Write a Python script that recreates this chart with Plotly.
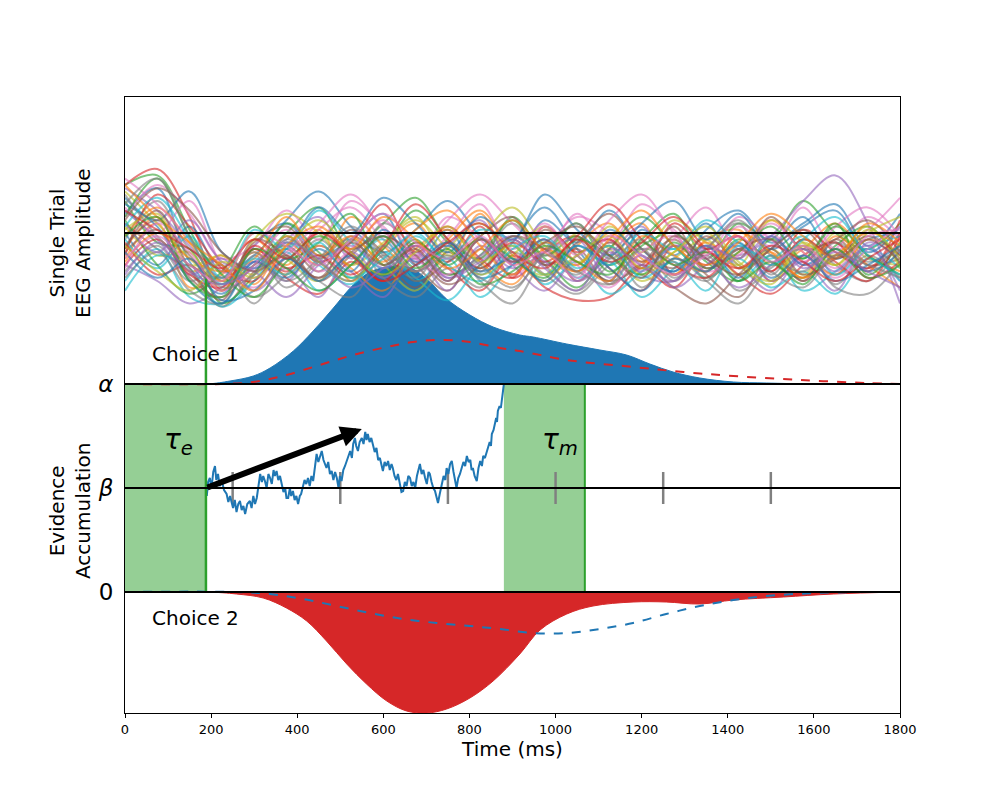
import plotly.graph_objects as go

# levels on the (arbitrary) vertical scale of the model panel
ZERO, BETA, ALPHA = 0, 104, 208

# EEG single trials, sampled every 75 ms (amplitude, baseline = 0)
eeg_t = [0, 75, 150, 225, 300, 375, 450, 525, 600, 675, 750, 825, 900,
         975, 1050, 1125, 1200, 1275, 1350, 1425, 1500, 1575, 1650, 1725, 1800]
eeg_trials = [
    [12, 28, -18, -38, -8, 6, -14, -4, 12, -20, 2, -26, -6, 16, -10, -30, 2, -14, 6, -22, -10, 10, -16, -4, 0],
    [-16, 6, -34, -26, -4, -20, 2, -30, -10, 6, -16, 12, -20, -4, -30, -10, 6, -26, -4, 2, -20, -10, 6, -14, -24],
    [30, 36, 2, -30, -20, 0, 16, -10, 6, 22, -4, -16, 10, -10, 6, -20, -4, 12, -16, 6, -4, 20, 0, -10, 6],
    [30, 40, 10, -36, -10, -24, 0, -12, -30, -6, -18, 4, -28, -12, -2, -22, -36, -8, -20, -2, -30, -14, -6, -24, 8],
    [-20, -30, -44, -34, -18, -30, -8, -24, -40, -14, -30, -4, -20, -36, -14, -4, -26, -30, -10, -20, -36, -14, -26, -10, -30],
    [6, -10, -24, -46, -24, -10, -30, -14, 0, -20, -36, -10, -26, 2, -14, -30, -20, -4, -26, -40, -14, -30, -4, -20, -16],
    [16, 0, 20, -20, -34, -14, 2, 16, -4, -16, 10, -4, -26, -10, 10, 0, -20, -4, 16, -10, 0, -20, -10, 10, -4],
    [-4, 20, -10, -20, -40, -26, -4, -20, 6, -10, -26, -16, 6, -20, -36, -16, 0, -26, -10, 6, -26, -4, -20, -30, -10],
    [26, 6, -16, -30, 0, -16, -30, -4, -20, -36, -10, 6, -16, -26, 0, -10, -30, -16, -4, -26, -10, -26, 0, -16, -20],
    [-30, -10, -40, -44, -30, -12, -36, -20, -4, -30, -16, -40, -20, -6, -28, -18, -40, -22, -8, -30, -14, -36, -24, -10, -22],
    [0, -20, 4, -24, -14, 8, 26, 4, -12, 2, 20, -2, -18, 8, -6, 14, -10, -24, 2, 14, -6, 6, 18, -8, 12],
    [-10, 10, -24, -14, -32, -6, -20, 10, -8, -24, -4, 14, -14, -30, -8, 6, -18, -8, -28, -12, 8, -12, -26, -4, -14],
    [20, -6, -10, -44, -26, 6, -12, -28, -10, 14, -6, -22, -2, -16, -34, -10, 10, -8, -24, -4, -18, -28, -8, 4, -20],
    [-6, -26, -20, -36, -10, -28, -38, -18, -30, -8, -22, -36, -14, -34, -42, -40, -22, -34, -12, -26, -38, -20, -6, -28, -18],
    [28, 14, -8, -28, -18, -4, 10, -16, -2, -24, -8, 8, -18, -4, -30, -14, 4, -26, -10, -14, -2, 20, 36, 6, -44],
    [-12, 2, -28, -40, -20, -8, -24, -2, -16, -34, -12, -24, -4, -20, -10, -32, -20, -34, -44, -26, -10, -30, -14, -22, -8],
    [10, 30, 12, -16, -8, 14, -4, 20, 4, -14, 8, 24, 6, -10, 12, -6, 18, 2, -14, 10, -4, -18, 4, 16, -2],
    [-24, -8, -30, -20, -44, -16, -30, -40, -14, -24, -6, -30, -44, -18, -26, -8, -34, -16, -30, -44, -20, -8, -32, -14, -28],
    [4, -14, -12, -36, -4, 12, 0, -20, -6, 10, -14, -2, 16, -8, -20, 4, -12, 8, -6, -20, 8, -6, -20, 0, 10],
    [-36, -14, -22, -46, -30, -6, -20, -32, -12, -28, -42, -20, -8, -32, -18, -38, -24, -10, -28, -16, -34, -24, -38, -16, -30],
    [22, 8, 26, -12, -22, -10, 16, 0, 22, 6, -12, 10, -4, 24, 2, -14, 6, 20, -4, 12, -10, 4, 14, -12, 4],
    [-2, 16, -6, -30, -12, -26, -8, -22, -36, -10, 2, -18, -32, -10, -20, 0, -16, -26, -6, -22, -12, -28, -2, -20, -34],
    [8, -20, -38, -24, 4, -16, -6, 12, -20, -4, -26, -14, 8, -14, -2, -24, -8, 0, -18, -30, -4, -16, 6, -26, -6],
    [-14, 24, 4, -22, -30, -2, -18, -6, 18, -12, 4, -16, -28, 4, -12, -4, -22, 6, -10, -2, -24, 2, -12, -22, 0],
    [14, -4, -26, -16, -36, -22, -40, -12, -28, -16, -36, -8, -22, -12, -4, -28, -14, -34, -20, -8, -30, -18, -36, -6, -16],
    [-8, 8, -14, -32, -6, 4, -16, 2, -12, -30, -18, -2, 10, -20, -6, 12, -10, -22, -2, -16, 10, -10, -4, 8, -12],
    [34, 18, -4, -24, -28, -12, 6, 24, 2, -18, -2, 18, -10, 6, -14, 8, 24, 0, -16, 4, -8, 16, -10, 2, 22],
    [-28, -12, -36, -44, -14, -34, -18, -4, -28, -40, -22, -34, -12, -26, -38, -20, -10, -30, -14, -36, -22, -10, -34, -38, -18],
    [2, 12, -20, -14, -26, -2, -18, -30, -8, 8, -10, -26, -14, 4, -18, -8, -26, -12, 0, -20, -32, -8, -14, 4, -22],
    [-4, -22, -2, -28, 2, -10, 14, -6, -22, -2, -16, 2, -6, -26, -8, -20, 0, -10, 8, -6, -16, -2, -26, -10, -2],
    [18, 4, -30, -44, -18, -28, -10, -24, 2, -18, -8, -28, -20, -4, -24, 2, -14, -24, -8, -28, -2, -20, -10, -24, -12],
    [-18, 0, -16, -24, -16, 10, -14, -2, -18, 2, 14, -8, -26, -6, -18, -30, -2, -14, -24, 0, -12, -28, -14, 0, -8],
    [10, 34, -2, -26, -40, -18, -2, -14, -26, -6, -20, -4, -16, -28, -4, -14, -26, -6, -22, -12, 4, -16, 4, -14, -26],
    [-20, -4, -26, -34, -8, -22, -14, -26, -8, 18, -4, -22, -6, -18, -2, 18, -4, -20, -28, -10, -24, -4, -18, -30, -2],
    [6, -12, 8, -18, -24, -40, -20, -8, -22, -12, -28, -14, -2, -18, -30, -12, -24, -8, -16, -34, -20, -10, -24, -8, -36],
    [-10, 14, -22, -42, -4, -14, -28, -12, -2, -14, -32, -20, -2, -10, -24, -6, -18, 4, -22, -10, -4, -26, -16, -2, -14],
    [-22, 6, -12, -36, -20, 2, -24, -10, 8, -16, -26, -4, -18, 4, -20, -34, -12, -2, -24, -14, 6, -12, -28, -10, 4],
    [24, -2, -20, -28, -12, -30, -16, 4, -14, -28, -6, -20, -34, -12, 6, -16, -4, -28, -10, 8, -14, -24, -6, -18, -10],
    [-8, -24, -36, -18, -28, -8, 8, -12, -26, -12, 4, -18, -8, -26, -14, -2, -22, -12, 4, -18, -30, -6, -20, 2, -16],
    [4, 22, -4, -32, -16, -26, -6, -28, -16, 0, -20, -30, -10, -2, -22, -8, -28, -18, -36, -8, -20, -4, 10, -14, -26],
    [-12, -28, -16, -42, -36, -16, -30, -14, -34, -20, -6, -24, -16, -30, -8, -22, -36, -16, -24, -6, -28, -14, -30, -20, -8],
    [30, 10, -6, -20, -36, -8, 4, -10, 10, -4, -22, -10, 8, -12, -24, -4, 14, -8, -20, -6, 12, -2, -16, 6, -6],
    [-2, 10, -30, -40, -10, -22, -36, -20, -2, -22, -10, -32, -24, -8, -18, -26, -6, -20, -12, -30, -18, -32, -10, -28, -20],
    [14, 2, -10, -22, -4, -16, 0, -14, -30, -20, -6, 6, -12, -22, -4, -18, -6, 10, -10, -22, -8, -18, -30, -16, -4],
    [-26, -6, -24, -32, -22, -6, -16, -34, -22, -8, -28, -18, -4, -22, -36, -10, -20, -30, -8, -16, -2, -22, -12, -24, -34],
    [8, 28, 14, -12, -24, -14, -28, -6, -20, -10, -30, -4, -18, -6, 4, -14, -28, -2, -16, -26, -10, 2, -16, -4, -18],
    [-16, -2, -20, -30, 0, -8, -20, -4, 12, -6, -16, -2, -20, -12, -28, -2, -14, -26, -14, -2, -18, -8, -22, -2, 2],
    [18, 34, -2, -34, -26, -4, -18, -30, -8, -24, -14, -28, -36, -14, -24, -32, -10, -18, -30, -10, -24, -34, -14, -20, -28],
]

# RT distributions (heights above alpha / depths below zero)
c1_t = [0, 190, 244, 298, 337, 391, 437, 484, 530, 569, 608, 639, 669, 708, 747, 801,
        855, 917, 948, 1026, 1103, 1165, 1219, 1273, 1335, 1413, 1490, 1600, 1800]
c1_h = [0, 0, 3, 8, 16, 33, 53, 76, 99, 112, 117, 118, 115, 102, 85, 69,
        57, 49, 47, 40, 34, 29, 20, 12, 6, 2, 1, 0, 0]
c1_alt_t = [0, 223, 298, 375, 452, 530, 608, 669, 731, 801, 871, 917, 1026, 1181, 1297, 1413, 1568, 1723, 1800]
c1_alt_h = [0, 0, 2, 9, 19, 29, 37, 42, 44, 42, 36, 33, 24, 17, 12, 8, 4, 1, 0]
c2_t = [0, 190, 259, 321, 375, 422, 468, 515, 561, 608, 654, 701, 747, 801, 855,
        917, 964, 1026, 1087, 1180, 1257, 1335, 1413, 1529, 1645, 1800]
c2_h = [0, 0, 2, 6, 16, 29, 49, 72, 92, 109, 119, 121, 117, 106, 89,
        62, 38, 22, 14, 10, 10, 12, 8, 5, 2, 0]
c2_alt_t = [0, 259, 337, 414, 491, 569, 646, 724, 801, 871, 948, 1026, 1103, 1180,
            1257, 1335, 1413, 1490, 1606, 1723, 1800]
c2_alt_h = [0, 0, 2, 7, 14, 21, 27, 31, 34, 37, 41, 41, 37, 31, 22, 14, 8, 4, 1, 0, 0]

# single evidence accumulation path (time, evidence)
walk = [
    (188, 104), (190, 96), (193, 110), (197, 114), (201, 104), (205, 120), (209, 126), (212, 112),
    (216, 118), (220, 106), (225, 111), (230, 102), (236, 98), (240, 90), (244, 96), (251, 84),
    (255, 92), (259, 80), (263, 88), (267, 91), (271, 82), (275, 86), (279, 78), (284, 88),
    (290, 91), (294, 84), (298, 96), (302, 88), (306, 94), (310, 108), (314, 118), (318, 110),
    (321, 116), (325, 111), (329, 104), (333, 118), (337, 114), (341, 108), (345, 122), (348, 116),
    (352, 121), (356, 112), (360, 116), (364, 108), (368, 100), (372, 104), (375, 94), (379, 94),
    (383, 104), (386, 96), (390, 101), (394, 92), (398, 96), (402, 88), (406, 96), (409, 98),
    (413, 104), (417, 112), (421, 108), (425, 114), (429, 106), (433, 116), (437, 111), (441, 126),
    (445, 138), (449, 130), (453, 136), (457, 141), (461, 132), (464, 128), (468, 124), (472, 130),
    (476, 118), (480, 121), (484, 112), (488, 120), (492, 114), (496, 104), (499, 116), (503, 111),
    (507, 122), (511, 126), (515, 131), (519, 136), (523, 141), (527, 134), (530, 148), (534, 154),
    (537, 146), (541, 141), (545, 150), (550, 154), (554, 148), (558, 160), (561, 152), (564, 158),
    (568, 150), (572, 154), (576, 148), (580, 140), (584, 144), (588, 132), (592, 134), (596, 126),
    (599, 121), (603, 130), (607, 126), (611, 131), (615, 122), (619, 128), (622, 124), (626, 116),
    (630, 112), (634, 118), (639, 108), (642, 100), (646, 101), (650, 110), (654, 106), (658, 116),
    (662, 114), (666, 106), (670, 110), (674, 104), (678, 116), (682, 122), (685, 128), (689, 118),
    (693, 122), (697, 114), (701, 108), (705, 120), (708, 118), (712, 110), (716, 104), (720, 101),
    (724, 94), (727, 89), (731, 98), (733, 104), (736, 108), (740, 116), (744, 112), (747, 124),
    (751, 118), (755, 128), (759, 131), (763, 120), (767, 110), (770, 104), (774, 114), (778, 118),
    (782, 124), (786, 130), (790, 126), (794, 136), (798, 130), (802, 132), (805, 122), (808, 124),
    (812, 116), (817, 111), (821, 124), (825, 131), (829, 126), (832, 136), (836, 134), (840, 140),
    (843, 144), (847, 150), (850, 146), (852, 158), (856, 162), (859, 168), (862, 174), (864, 170),
    (866, 181), (870, 186), (873, 184), (875, 191), (878, 200), (880, 208),
]

tau_e = [0, 188]
tau_m = [880, 1068]
marker_times = [250, 500, 750, 1000, 1250, 1500]
drift_start = (188, 104)
drift_end = (550, 163)

tab10 = ['#1f77b4', '#ff7f0e', '#2ca02c', '#d62728', '#9467bd',
         '#8c564b', '#e377c2', '#7f7f7f', '#bcbd22', '#17becf']
FONT = 'DejaVu Sans'

fig = go.Figure()

# choice 1 distribution (above alpha)
fig.add_trace(go.Scatter(x=[0, 1800], y=[ALPHA, ALPHA], mode='lines',
                         line=dict(width=0), hoverinfo='skip'))
fig.add_trace(go.Scatter(x=c1_t, y=[ALPHA + h for h in c1_h], mode='lines',
                         line=dict(color='#1f77b4', width=1, shape='spline'),
                         fill='tonexty', fillcolor='#1f77b4'))
fig.add_trace(go.Scatter(x=c1_alt_t, y=[ALPHA + h for h in c1_alt_h], mode='lines',
                         line=dict(color='#d62728', width=2, dash='dash', shape='spline')))

# choice 2 distribution (below zero)
fig.add_trace(go.Scatter(x=[0, 1800], y=[ZERO, ZERO], mode='lines',
                         line=dict(width=0), hoverinfo='skip'))
fig.add_trace(go.Scatter(x=c2_t, y=[ZERO - h for h in c2_h], mode='lines',
                         line=dict(color='#d62728', width=1, shape='spline'),
                         fill='tonexty', fillcolor='#d62728'))
fig.add_trace(go.Scatter(x=c2_alt_t, y=[ZERO - h for h in c2_alt_h], mode='lines',
                         line=dict(color='#1f77b4', width=2, dash='dash', shape='spline')))

# EEG single trials on their own (hidden) amplitude axis
for i, trial in enumerate(eeg_trials):
    fig.add_trace(go.Scatter(x=eeg_t, y=trial, yaxis='y2', mode='lines',
                             line=dict(color=tab10[i % 10], width=2, shape='spline'),
                             opacity=0.6))

# non-decision windows and reference lines
shapes = []
for win in (tau_e, tau_m):
    shapes.append(dict(type='rect', xref='x', yref='y', x0=win[0], x1=win[1], y0=ZERO, y1=ALPHA,
                       fillcolor='rgba(44,160,44,0.5)', line=dict(width=0), layer='below'))
shapes.append(dict(type='line', xref='x', yref='y', x0=tau_e[1], x1=tau_e[1], y0=ZERO, y1=313,
                   line=dict(color='#2ca02c', width=2.5)))
shapes.append(dict(type='line', xref='x', yref='y', x0=tau_m[1], x1=tau_m[1], y0=ZERO, y1=ALPHA,
                   line=dict(color='#2ca02c', width=2)))
shapes.append(dict(type='line', xref='paper', yref='y2', x0=0, x1=1, y0=0, y1=0,
                   line=dict(color='black', width=2)))
for lvl in (ALPHA, BETA, ZERO):
    shapes.append(dict(type='line', xref='paper', yref='y', x0=0, x1=1, y0=lvl, y1=lvl,
                       line=dict(color='black', width=2)))
fig.update_layout(shapes=shapes)

# gray markers on the starting point line
mx, my = [], []
for t in marker_times:
    mx += [t, t, None]
    my += [BETA - 16, BETA + 16, None]
fig.add_trace(go.Scatter(x=mx, y=my, mode='lines', line=dict(color='#808080', width=2.5)))

# evidence path
fig.add_trace(go.Scatter(x=[p[0] for p in walk], y=[p[1] for p in walk], mode='lines',
                         line=dict(color='#1f77b4', width=2)))

fig.add_annotation(x=drift_end[0], y=drift_end[1], ax=drift_start[0], ay=drift_start[1],
                   xref='x', yref='y', axref='x', ayref='y', showarrow=True, text='',
                   arrowhead=2, arrowsize=0.7, arrowwidth=6, arrowcolor='black')

labels = [
    (58, 238, 'Choice 1', 20, 'left'),
    (58, -26, 'Choice 2', 20, 'left'),
    (125, 151, '<i>τ</i><sub><i>e</i></sub>', 28, 'center'),
    (1010, 151, '<i>τ</i><sub><i>m</i></sub>', 28, 'center'),
]
for x, y, txt, size, anchor in labels:
    fig.add_annotation(x=x, y=y, xref='x', yref='y', text=txt, showarrow=False,
                       xanchor=anchor, font=dict(family=FONT, size=size, color='black'))

for y, txt in ((349, 'Single Trial<br>EEG Amplitude'), (81, 'Evidence<br>Accumulation')):
    fig.add_annotation(x=-0.071, y=y, xref='paper', yref='y', text=txt, textangle=-90,
                       xanchor='center', yanchor='middle', showarrow=False,
                       font=dict(family=FONT, size=20, color='black'))

fig.update_xaxes(range=[0, 1800], tickvals=list(range(0, 1801, 200)), ticks='outside', ticklen=4,
                 tickcolor='black', tickfont=dict(family=FONT, size=13, color='black'),
                 title=dict(text='Time (ms)', font=dict(family=FONT, size=20, color='black'), standoff=6),
                 showline=True, linecolor='black', linewidth=1, mirror=True, showgrid=False, zeroline=False)
fig.update_yaxes(range=[-121, 495], tickvals=[ZERO, BETA, ALPHA],
                 ticktext=['0', '<i>β</i>', '<i>α</i>'], ticks='', ticklabelstandoff=6,
                 tickfont=dict(family=FONT, size=23, color='black'),
                 showline=True, linecolor='black', linewidth=1, mirror=True, showgrid=False, zeroline=False)

fig.update_layout(
    yaxis2=dict(overlaying='y', range=[-300, 85], visible=False, fixedrange=True),
    width=1000, height=800, showlegend=False,
    margin=dict(l=117, r=108, t=89, b=95),
    plot_bgcolor='white', paper_bgcolor='white',
)

fig.write_html("out.html")
